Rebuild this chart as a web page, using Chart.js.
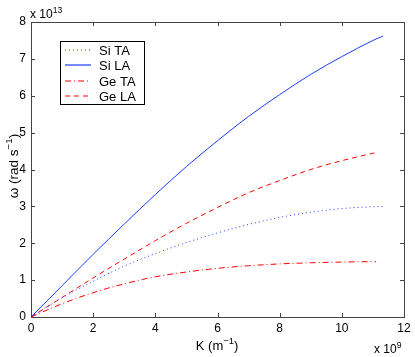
<!DOCTYPE html>
<html>
<head>
<meta charset="utf-8">
<script src="https://cdn.jsdelivr.net/npm/chart.js@4.4.0/dist/chart.umd.min.js"></script>
<style>
  html, body { margin: 0; padding: 0; background: #fff; }
  #wrap { width: 415px; height: 357px; }
</style>
</head>
<body>
<div id="wrap"><canvas id="c" width="415" height="357"></canvas></div>
<script>
// Wave vector K (x 10^9 m^-1) for each material
const kSi = [0, 1, 2, 3, 4, 5, 6, 7, 8, 9, 10, 11, 11.33];
const kGe = [0, 1, 2, 3, 4, 5, 6, 7, 8, 9, 10, 11, 11.1];

// Frequencies omega (x 10^13 rad/s)
const siTA = [0, 0.52, 0.97, 1.38, 1.72, 2.02, 2.28, 2.51, 2.70, 2.84, 2.94, 2.99, 3.00];
const siLA = [0, 0.85, 1.70, 2.52, 3.32, 4.08, 4.78, 5.44, 6.03, 6.58, 7.06, 7.50, 7.62];
const geTA = [0, 0.36, 0.66, 0.90, 1.09, 1.22, 1.32, 1.39, 1.44, 1.47, 1.49, 1.50, 1.50];
const geLA = [0, 0.53, 1.06, 1.57, 2.07, 2.54, 2.97, 3.37, 3.70, 4.00, 4.24, 4.44, 4.46];

const seriesLabels = ['Si TA', 'Si LA', 'Ge TA', 'Ge LA'];

const FONT = "'Liberation Sans', Arial, Helvetica, sans-serif";
const BLUE = '#1a3cff';
const RED = '#ff0000';
const seriesColors = [BLUE, BLUE, RED, RED];
const seriesDashes = [[1, 3], [], [6, 3, 1, 3], [5, 4]];

function toPoints(ks, ws) {
    return ks.map((k, i) => ({ x: k, y: ws[i] }));
}

// Text with superscript parts
function drawRich(ctx, parts, x, y, size, align) {
    let total = 0;
    parts.forEach(p => {
        ctx.font = (p.sup ? size * 0.72 : size) + 'px ' + FONT;
        p.w = ctx.measureText(p.t).width;
        total += p.w;
    });
    let cx = align === 'center' ? x - total / 2 : x;
    parts.forEach(p => {
        ctx.font = (p.sup ? size * 0.72 : size) + 'px ' + FONT;
        ctx.fillText(p.t, cx, p.sup ? y - size * 0.45 : y);
        cx += p.w;
    });
}

const framePlugin = {
    id: 'frame',
    afterDraw(chart) {
        const ctx = chart.ctx;
        const a = chart.chartArea;
        const xs = chart.scales.x;
        const ys = chart.scales.y;
        ctx.save();

        // box and inward ticks
        ctx.strokeStyle = '#444';
        ctx.lineWidth = 1;
        ctx.setLineDash([]);
        ctx.strokeRect(Math.round(a.left) + 0.5, Math.round(a.top) + 0.5,
            Math.round(a.right - a.left), Math.round(a.bottom - a.top));
        ctx.beginPath();
        xs.ticks.forEach(t => {
            const px = Math.round(xs.getPixelForValue(t.value)) + 0.5;
            ctx.moveTo(px, a.bottom); ctx.lineTo(px, a.bottom - 4);
            ctx.moveTo(px, a.top); ctx.lineTo(px, a.top + 4);
        });
        ys.ticks.forEach(t => {
            const py = Math.round(ys.getPixelForValue(t.value)) + 0.5;
            ctx.moveTo(a.left, py); ctx.lineTo(a.left + 4, py);
            ctx.moveTo(a.right, py); ctx.lineTo(a.right - 4, py);
        });
        ctx.stroke();

        ctx.fillStyle = '#000';
        ctx.textBaseline = 'alphabetic';
        ctx.textAlign = 'left';

        // exponent labels
        drawRich(ctx, [{ t: 'x 10' }, { t: '13', sup: true }], 30, 18, 12, 'left');
        drawRich(ctx, [{ t: 'x 10' }, { t: '9', sup: true }], 374, 353, 12, 'left');

        // axis titles
        drawRich(ctx, [{ t: 'K (m' }, { t: '\u22121', sup: true }, { t: ')' }], 217, 350, 13, 'center');
        ctx.save();
        ctx.translate(18, 166);
        ctx.rotate(-Math.PI / 2);
        drawRich(ctx, [{ t: '\u03c9 (rad s' }, { t: '\u22121', sup: true }, { t: ')' }], 0, 0, 13.5, 'center');
        ctx.restore();

        // legend box
        const lx = 60, ly = 41, lw = 84, lh = 63;
        ctx.fillStyle = '#fff';
        ctx.fillRect(lx, ly, lw, lh);
        ctx.strokeStyle = '#000';
        ctx.strokeRect(lx + 0.5, ly + 0.5, lw, lh);
        seriesLabels.forEach((label, i) => {
            const ry = Math.round(50 + i * 15.4);
            ctx.strokeStyle = seriesColors[i];
            ctx.lineWidth = 1.2;
            ctx.setLineDash(seriesDashes[i]);
            ctx.beginPath();
            ctx.moveTo(65, ry);
            ctx.lineTo(91, ry);
            ctx.stroke();
            ctx.setLineDash([]);
            ctx.fillStyle = '#000';
            ctx.font = '13px ' + FONT;
            ctx.textBaseline = 'middle';
            ctx.fillText(label, 99, ry + 1);
        });
        ctx.restore();
    }
};

const seriesData = [toPoints(kSi, siTA), toPoints(kSi, siLA), toPoints(kGe, geTA), toPoints(kGe, geLA)];

const datasets = seriesLabels.map((label, i) => ({
    label: label,
    data: seriesData[i],
    borderColor: seriesColors[i],
    borderDash: seriesDashes[i],
    borderWidth: 1,
    pointRadius: 0,
    fill: false,
    cubicInterpolationMode: 'monotone'
}));

new Chart(document.getElementById('c'), {
    type: 'line',
    data: { datasets: datasets },
    options: {
        responsive: false,
        animation: false,
        layout: { padding: { left: 0, top: 22, right: 11, bottom: 0 } },
        plugins: { legend: { display: false }, tooltip: { enabled: false } },
        scales: {
            x: {
                type: 'linear', min: 0, max: 12,
                grid: { display: false, drawTicks: false },
                border: { display: false },
                ticks: { stepSize: 2, padding: 4, color: '#000', maxRotation: 0,
                    font: { family: FONT, size: 12 } },
                afterFit(scale) { scale.height = 40; }
            },
            y: {
                type: 'linear', min: 0, max: 8,
                grid: { display: false, drawTicks: false },
                border: { display: false },
                ticks: { stepSize: 1, padding: 5, color: '#000',
                    font: { family: FONT, size: 12 } },
                afterFit(scale) { scale.width = 31; }
            }
        }
    },
    plugins: [framePlugin]
});
</script>
</body>
</html>
